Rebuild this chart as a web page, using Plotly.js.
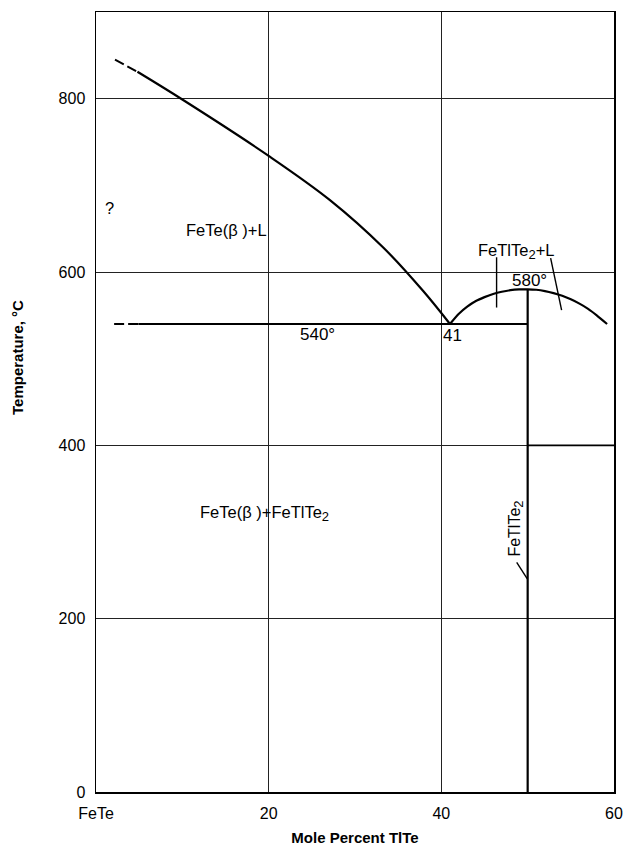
<!DOCTYPE html>
<html>
<head>
<meta charset="utf-8">
<script src="https://cdn.plot.ly/plotly-3.0.1.min.js"></script>
<style>html,body{margin:0;padding:0;background:#fff;}#chart{width:625px;height:854px;}</style>
</head>
<body>
<div id="chart"></div>
<script>
// Liquidus FeTe(β)+L (dashed uncertain start, then solid)
const liqDashX = [2.2, 4.8];
const liqDashT = [845, 831];
const liqX = [4.8, 10, 20, 27.1, 33.3, 37.9, 41];
const liqT = [831, 799, 734, 683, 628, 578, 540];
// FeTlTe2 liquidus dome
const domeX = [41, 42, 43, 44, 45, 46, 47, 48, 49, 50, 51, 52, 53, 54, 55, 56, 57, 58, 59.2];
const domeT = [540, 551.5, 560, 566.5, 571, 574.6, 577.2, 579, 579.9, 580, 579.5, 578, 575.6, 572.5, 568.5, 563.5, 557.5, 550, 540];
// Eutectic 540
const eutDashX = [2.1, 4.9];
const eutDashT = [540, 540];
const eutX = [4.9, 50];
const eutT = [540, 540];
// FeTlTe2 compound line
const compX = [50, 50];
const compT = [580, 0];
// 400 line right of compound
const transX = [50, 60];
const transT = [400, 400];
// tie lines in FeTlTe2+L field
const tie1X = [46.4, 46.4];
const tie1T = [617, 559];
const tie2X = [52.66, 53.93];
const tie2T = [616, 556];
// pointer for FeTlTe2 label
const ptrX = [48.73, 49.96];
const ptrT = [265, 246];

const xTickVals = [0, 20, 40, 60];
const xTickText = ['FeTe', '20', '40', '60'];
const yTickVals = [0, 200, 400, 600, 800];

const FONT = 'Liberation Sans, Arial, Helvetica, sans-serif';

function ln(x, y, w, dash, smooth) {
  const line = {color: '#000', width: w, dash: dash || 'solid'};
  if (smooth) { line.shape = 'spline'; line.smoothing = smooth; }
  return {x: x, y: y, mode: 'lines', type: 'scatter', hoverinfo: 'skip',
    line: line, showlegend: false};
}

const data = [
  ln(liqDashX, liqDashT, 2, '10px,4px'),
  ln(liqX, liqT, 2.2, null, 1),
  ln(domeX, domeT, 2.2, null, 0.6),
  ln(eutDashX, eutDashT, 2, '10px,4px'),
  ln(eutX, eutT, 2),
  ln(compX, compT, 2.2),
  ln(transX, transT, 1.8),
  ln(tie1X, tie1T, 1.4),
  ln(tie2X, tie2T, 1.4),
  ln(ptrX, ptrT, 1.4)
];

const SUB2 = '<sub><span style="font-size:13px">2</span></sub>';

const ann = (text, x, y, opts) => Object.assign({text: text, x: x, y: y, xref: 'x', yref: 'y',
  showarrow: false, font: {family: FONT, size: 16.5, color: '#000'}}, opts || {});

const layout = {
  width: 625, height: 854,
  margin: {l: 96, r: 11, t: 12, b: 62},
  paper_bgcolor: '#fff', plot_bgcolor: '#fff',
  font: {family: FONT, color: '#000'},
  showlegend: false,
  xaxis: {
    range: [0, 60], tickvals: xTickVals, ticktext: xTickText,
    showgrid: true, gridcolor: '#222', gridwidth: 1, zeroline: false,
    showline: true, linecolor: '#000', linewidth: 1.5, mirror: true,
    ticks: '', tickfont: {family: FONT, size: 16, color: '#000'},
    ticklabelstandoff: 6,
    title: {text: 'Mole Percent TlTe', font: {family: FONT, size: 15, color: '#000', weight: 'bold'}, standoff: 12},
    fixedrange: true
  },
  yaxis: {
    range: [0, 900], tickvals: yTickVals,
    showgrid: true, gridcolor: '#222', gridwidth: 1, zeroline: false,
    showline: true, linecolor: '#000', linewidth: 1.5, mirror: true,
    ticks: '', tickfont: {family: FONT, size: 16, color: '#000'},
    ticklabelstandoff: 6,
    fixedrange: true
  },
  annotations: [
    {text: 'Temperature, °C', xref: 'paper', yref: 'paper', x: -0.1525, y: 0.5564,
      textangle: -90, showarrow: false, xanchor: 'center', yanchor: 'middle',
      font: {family: FONT, size: 15, color: '#000', weight: 'bold'}},
    ann('?', 1.62, 674),
    ann('FeTe(β )+L', 15.1, 648),
    ann('540°', 25.7, 528, {font: {family: FONT, size: 17, color: '#000'}}),
    ann('41', 40.0, 527, {xanchor: 'left', font: {family: FONT, size: 17, color: '#000'}}),
    ann('580°', 47.96, 590, {xanchor: 'left', font: {family: FONT, size: 17, color: '#000'}}),
    ann('FeTlTe' + SUB2 + '+L', 48.6, 624),
    ann('FeTe(β )+FeTlTe' + SUB2, 19.5, 321),
    ann('FeTlTe' + SUB2, 48.54, 304, {textangle: -90, font: {family: FONT, size: 16, color: '#000'}})
  ]
};

Plotly.newPlot('chart', data, layout, {displayModeBar: false, staticPlot: true});
</script>
</body>
</html>
